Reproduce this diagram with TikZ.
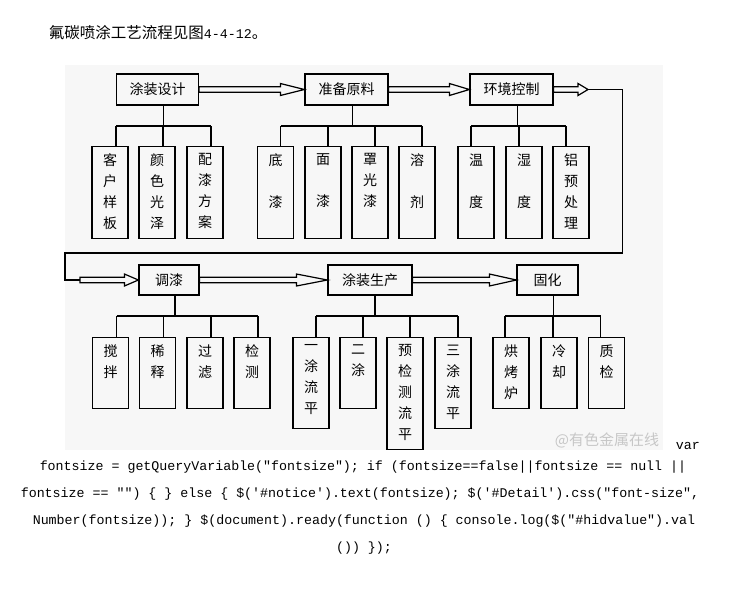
\documentclass[tikz,border=0pt]{standalone}
\usepackage{fontspec}
\setmainfont{Noto Sans CJK SC}
\setmonofont{Liberation Mono}
\usetikzlibrary{calc}

% hollow double-line arrow: from, to, head length
\newcommand{\flowarrow}[3]{%
  \draw[line join=miter] let \p1=(#1), \p2=(#2) in
    (\x1,\y1+2.8pt) -- (\x2-#3,\y1+2.8pt) -- (\x2-#3,\y1+6pt) -- (\x2,\y1)
    -- (\x2-#3,\y1-6pt) -- (\x2-#3,\y1-2.8pt) -- (\x1,\y1-2.8pt) -- cycle;}
% vertical text in a sub box: height, lines
\newcommand{\kidtext}[2]{\parbox[c][#1][t]{36pt}{\centering\vspace*{7pt}#2}}

\begin{document}
\begin{tikzpicture}[x=1pt, y=-1pt, line width=1.2pt,
    mainbox/.style={draw, inner sep=0pt, minimum height=31pt, font=\fontsize{14pt}{16pt}\selectfont},
    subbox/.style={draw, inner sep=0pt, anchor=north, font=\fontsize{14pt}{21pt}\selectfont},
    codeline/.style={font=\ttfamily\fontsize{13.3pt}{16pt}\selectfont}]
    \useasboundingbox (0,0) rectangle (730,597);
    \fill[black!3] (65,65) rectangle (663,450);

    \node[anchor=west, font=\fontsize{15.5pt}{16pt}\selectfont] (title) at (45,33)
        {氟碳喷涂工艺流程见图{\ttfamily\fontsize{13.3pt}{16pt}\selectfont 4-4-12}。};

    % first row
    \node[mainbox, minimum width=82pt] (design) at (157.5,89.5) {涂装设计};
    \node[mainbox, minimum width=83pt] (material) at (346.5,89.5) {准备原料};
    \node[mainbox, minimum width=83pt] (environ) at (511.5,89.5) {环境控制};

    \node[subbox] (design1) at (110,146) {\kidtext{92pt}{客\\户\\样\\板}};
    \node[subbox] (design2) at (157,146) {\kidtext{92pt}{颜\\色\\光\\泽}};
    \node[subbox] (design3) at (205,146) {\kidtext{92pt}{配\\漆\\方\\案}};
    \node[subbox] (material1) at (275.5,146) {\kidtext{92pt}{底\\[21pt]漆}};
    \node[subbox] (material2) at (323,146) {\kidtext{92pt}{面\\[21pt]漆}};
    \node[subbox] (material3) at (370,146) {\kidtext{92pt}{罩\\光\\漆}};
    \node[subbox] (material4) at (417,146) {\kidtext{92pt}{溶\\[21pt]剂}};
    \node[subbox] (environ1) at (476,146) {\kidtext{92pt}{温\\[21pt]度}};
    \node[subbox] (environ2) at (524,146) {\kidtext{92pt}{湿\\[21pt]度}};
    \node[subbox] (environ3) at (571,146) {\kidtext{92pt}{铝\\预\\处\\理}};

    \draw ([xshift=6pt]design.south) -- ++(0,21);
    \draw ([xshift=6pt,yshift=20pt]design1.north) -- ([xshift=6pt,yshift=20pt]design3.north);
    \foreach \k in {design1,design2,design3}
        \draw ([xshift=6pt]\k.north) -- ++(0,-20);

    \draw ([xshift=6pt]material.south) -- ++(0,21);
    \draw ([xshift=5pt,yshift=20pt]material1.north) -- ([xshift=5pt,yshift=20pt]material4.north);
    \foreach \k in {material1,material2,material3,material4}
        \draw ([xshift=5pt]\k.north) -- ++(0,-20);

    \draw ([xshift=6pt]environ.south) -- ++(0,21);
    \draw ([xshift=-5pt,yshift=20pt]environ1.north) -- ([xshift=-5pt,yshift=20pt]environ3.north);
    \foreach \k in {environ1,environ2,environ3}
        \draw ([xshift=-5pt]\k.north) -- ++(0,-20);

    % second row
    \node[mainbox, minimum width=60pt, minimum height=30pt] (mixing) at (169,280) {调漆};
    \node[mainbox, minimum width=84pt, minimum height=30pt] (produce) at (370,280) {涂装生产};
    \node[mainbox, minimum width=61pt, minimum height=30pt] (cure) at (547.5,280) {固化};

    \node[subbox] (mixing1) at (110.5,337) {\kidtext{71pt}{搅\\拌}};
    \node[subbox] (mixing2) at (157.5,337) {\kidtext{71pt}{稀\\释}};
    \node[subbox] (mixing3) at (205,337) {\kidtext{71pt}{过\\滤}};
    \node[subbox] (mixing4) at (252,337) {\kidtext{71pt}{检\\测}};
    \node[subbox] (produce1) at (311,337) {\kidtext{91pt}{一\\涂\\流\\平}};
    \node[subbox] (produce2) at (358,337) {\kidtext{71pt}{二\\涂}};
    \node[subbox] (produce3) at (405,337) {\kidtext{112pt}{预\\检\\测\\流\\平}};
    \node[subbox] (produce4) at (453,337) {\kidtext{91pt}{三\\涂\\流\\平}};
    \node[subbox] (cure1) at (511,337) {\kidtext{71pt}{烘\\烤\\炉}};
    \node[subbox] (cure2) at (559,337) {\kidtext{71pt}{冷\\却}};
    \node[subbox] (cure3) at (606.5,337) {\kidtext{71pt}{质\\检}};

    \draw ([xshift=6pt]mixing.south) -- ++(0,21);
    \draw ([xshift=6pt,yshift=21pt]mixing1.north) -- ([xshift=6pt,yshift=21pt]mixing4.north);
    \foreach \k in {mixing1,mixing2,mixing3,mixing4}
        \draw ([xshift=6pt]\k.north) -- ++(0,-21);

    \draw ([xshift=5pt]produce.south) -- ++(0,21);
    \draw ([xshift=5pt,yshift=21pt]produce1.north) -- ([xshift=5pt,yshift=21pt]produce4.north);
    \foreach \k in {produce1,produce2,produce3,produce4}
        \draw ([xshift=5pt]\k.north) -- ++(0,-21);

    \draw ([xshift=6pt]cure.south) -- ++(0,21);
    \draw ([xshift=-6pt,yshift=21pt]cure1.north) -- ([xshift=-6pt,yshift=21pt]cure3.north);
    \foreach \k in {cure1,cure2,cure3}
        \draw ([xshift=-6pt]\k.north) -- ++(0,-21);

    % flow arrows
    \coordinate (envout) at (588,89.5);
    \coordinate (turn) at (622.5,253);
    \coordinate (back) at (65,253);
    \coordinate (mixin) at (80,280);
    \flowarrow{design.east}{material.west}{24pt}
    \flowarrow{material.east}{environ.west}{20pt}
    \flowarrow{environ.east}{envout}{10pt}
    \draw (envout) -- (envout -| turn) -- (turn) -- (back) -- (back |- mixin) -- (mixin);
    \flowarrow{mixin}{mixing.west}{14pt}
    \flowarrow{mixing.east}{produce.west}{31pt}
    \flowarrow{produce.east}{cure.west}{27pt}

    % page text
    \node[anchor=east, text=black!22, font=\fontsize{15pt}{16pt}\selectfont] (mark) at (663,440) {@有色金属在线};
    \node[codeline, anchor=west] (var) at (672,446) {var};
    \node[codeline] (code1) at (363,467) {fontsize = getQueryVariable("fontsize"); if (fontsize==false||fontsize == null ||};
    \node[codeline] (code2) at (360,494) {fontsize == "") \{ \} else \{ \$('\#notice').text(fontsize); \$('\#Detail').css("font-size",};
    \node[codeline] (code3) at (364,521) {Number(fontsize)); \} \$(document).ready(function () \{ console.log(\$("\#hidvalue").val};
    \node[codeline] (code4) at (364,548) {()) \});};
\end{tikzpicture}
\end{document}
